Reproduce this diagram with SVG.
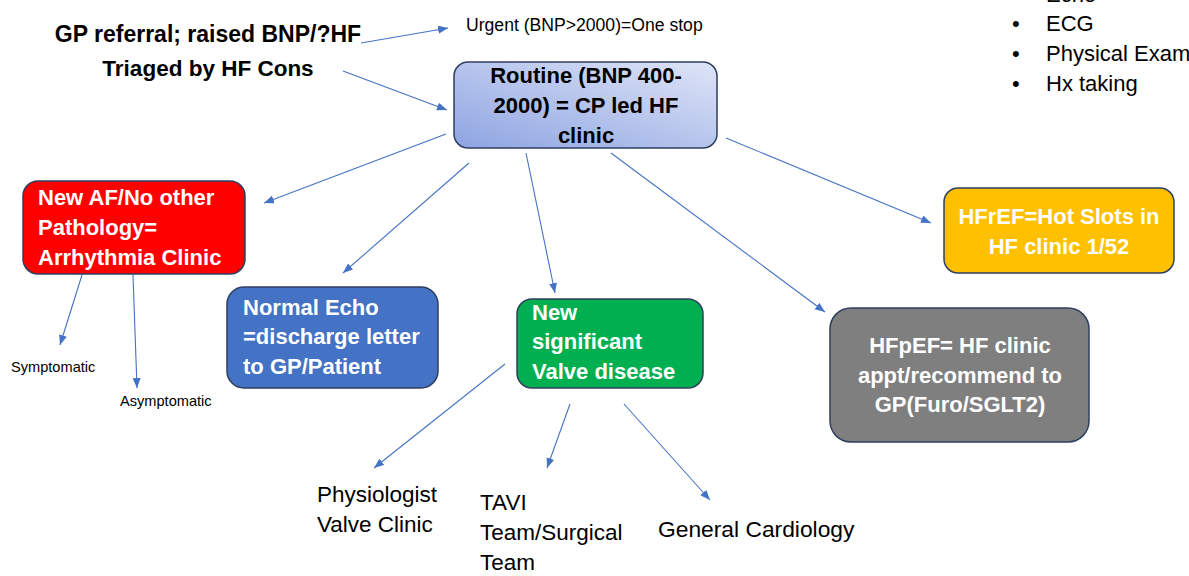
<svg xmlns="http://www.w3.org/2000/svg" width="1189" height="576" viewBox="0 0 1189 576">
<style>
text{font-family:"Liberation Sans",Arial,sans-serif;}
.h{font-weight:bold;font-size:23px;fill:#000;}
.nb{font-weight:bold;font-size:22px;fill:#fff;}
.bk{font-weight:bold;font-size:22px;fill:#000;}
.t{font-size:22px;fill:#000;}
.s{font-size:14.6px;fill:#000;}
.box{stroke:#2f3f60;stroke-width:1.5;}
.c line{stroke:#4472c4;stroke-width:1.1;fill:none;marker-end:url(#ah);}
</style>
<defs>
<marker id="ah" markerUnits="userSpaceOnUse" markerWidth="11" markerHeight="9" refX="10" refY="4" orient="auto">
<path d="M0,0 L10,4 L0,8 z" fill="#4472c4"/>
</marker>
<linearGradient id="rg" x1="0" y1="1" x2="1" y2="0">
<stop offset="0" stop-color="#8ea4e2"/>
<stop offset="1" stop-color="#dfe5f7"/>
</linearGradient>
</defs>
<rect width="1189" height="576" fill="#fff"/>

<g id="gp-referral">
<text class="h" x="208" y="42" text-anchor="middle">GP referral; raised BNP/?HF</text>
<text class="h" x="208" y="76" text-anchor="middle" style="font-size:22.5px">Triaged by HF Cons</text>
</g>

<g id="urgent">
<text x="466" y="31" style="font-size:17.6px">Urgent (BNP&gt;2000)=One stop</text>
</g>

<g id="bullets">
<text class="t" x="1046" y="2">Echo</text>
<text class="t" x="1012" y="31">•</text><text class="t" x="1046" y="31">ECG</text>
<text class="t" x="1012" y="61">•</text><text class="t" x="1046" y="61">Physical Exam</text>
<text class="t" x="1012" y="91">•</text><text class="t" x="1046" y="91">Hx taking</text>
</g>

<g id="routine">
<rect class="box" x="454" y="62" width="263" height="86" rx="14" fill="url(#rg)"/>
<text class="bk" x="586" y="83" text-anchor="middle">Routine (BNP 400-</text>
<text class="bk" x="586" y="113" text-anchor="middle">2000) = CP led HF</text>
<text class="bk" x="586" y="143" text-anchor="middle">clinic</text>
</g>

<g id="arrhythmia">
<rect class="box" x="23" y="181" width="222" height="93" rx="15" fill="#ff0000"/>
<text class="nb" x="38" y="205">New AF/No other</text>
<text class="nb" x="38" y="235">Pathology=</text>
<text class="nb" x="38" y="265">Arrhythmia Clinic</text>
</g>

<g id="normal-echo">
<rect class="box" x="227" y="287" width="211" height="101" rx="17" fill="#4472c4"/>
<text class="nb" x="243" y="315">Normal Echo</text>
<text class="nb" x="243" y="344">=discharge letter</text>
<text class="nb" x="243" y="374">to GP/Patient</text>
</g>

<g id="valve">
<rect class="box" x="517" y="299" width="186" height="89" rx="15" fill="#00b050"/>
<text class="nb" x="532" y="320">New</text>
<text class="nb" x="532" y="349">significant</text>
<text class="nb" x="532" y="379">Valve disease</text>
</g>

<g id="hfref">
<rect class="box" x="944" y="188" width="230" height="85" rx="14" fill="#ffc000"/>
<text class="nb" x="1059" y="224" text-anchor="middle">HFrEF=Hot Slots in</text>
<text class="nb" x="1059" y="254" text-anchor="middle">HF clinic 1/52</text>
</g>

<g id="hfpef">
<rect class="box" x="830" y="308" width="259" height="134" rx="21" fill="#7f7f7f"/>
<text class="nb" x="960" y="353" text-anchor="middle">HFpEF= HF clinic</text>
<text class="nb" x="960" y="383" text-anchor="middle">appt/recommend to</text>
<text class="nb" x="960" y="412" text-anchor="middle">GP(Furo/SGLT2)</text>
</g>

<g id="symptomatic"><text class="s" x="11" y="372">Symptomatic</text></g>
<g id="asymptomatic"><text class="s" x="120" y="406">Asymptomatic</text></g>

<g id="physiologist">
<text class="t" x="317" y="502" style="font-size:22.5px">Physiologist</text>
<text class="t" x="317" y="532" style="font-size:22.5px">Valve Clinic</text>
</g>
<g id="tavi">
<text class="t" x="480" y="510" style="font-size:22.5px">TAVI</text>
<text class="t" x="480" y="540" style="font-size:22.5px">Team/Surgical</text>
<text class="t" x="480" y="570" style="font-size:22.5px">Team</text>
</g>
<g id="general-cardiology">
<text class="t" x="658" y="537" style="font-size:22.8px">General Cardiology</text>
</g>

<g id="connectors" class="c">
<line x1="361" y1="43" x2="448" y2="28"/>
<line x1="343" y1="71" x2="447" y2="110"/>
<line x1="446" y1="134" x2="264" y2="203"/>
<line x1="469" y1="163" x2="343" y2="273"/>
<line x1="526" y1="153" x2="555" y2="293"/>
<line x1="611" y1="153" x2="825" y2="312"/>
<line x1="726" y1="138" x2="931" y2="223"/>
<line x1="82" y1="275" x2="60" y2="345"/>
<line x1="133" y1="275" x2="137" y2="388"/>
<line x1="505" y1="364" x2="374" y2="468"/>
<line x1="570" y1="404" x2="547" y2="468"/>
<line x1="624" y1="404" x2="710" y2="500"/>
</g>
</svg>
